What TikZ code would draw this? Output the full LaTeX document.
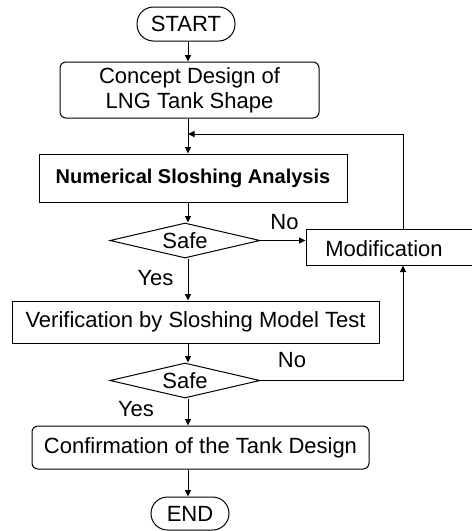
\documentclass[tikz,border=0pt]{standalone}
\usepackage{fontspec}
\setmainfont{Liberation Sans}
\usetikzlibrary{shapes.geometric,arrows.meta}

\tikzset{
  base/.style={draw, line width=1pt, inner sep=0pt, align=center,
               font=\fontsize{22}{25}\selectfont},
  terminal/.style={base, rounded corners=16.5pt},
  roundbox/.style={base, rounded corners=6pt},
  box/.style={base},
  decision/.style={base, diamond, shape aspect=4.3},
  lbl/.style={inner sep=0pt, font=\fontsize{22}{25}\selectfont},
  link/.style={line width=1pt},
  arr/.style={link, -{Triangle[width=6pt,length=6.5pt]}}
}

\begin{document}
\begin{tikzpicture}[x=1pt,y=-1pt]
  \useasboundingbox (0,0) rectangle (472,531);

  % main flow
  \node (start) [terminal, minimum width=98pt, minimum height=34pt] at (186,24) {START};
  \node (concept) [roundbox, minimum width=259pt, minimum height=56pt] at (189.5,90)
        {Concept Design of\\LNG Tank Shape};
  \node (num) [box, minimum width=308pt, minimum height=48pt,
               font=\fontsize{20}{24}\selectfont\bfseries] at (193,178)
        {Numerical Sloshing Analysis};
  \node (safeA) [decision, minimum width=150pt, minimum height=35pt] at (185,240.5) {Safe};
  \node (mod) [box, minimum width=168pt, minimum height=36pt,
               label={[lbl, xshift=-6pt, yshift=-2pt]center:Modification}] at (390,247) {};
  \node (verif) [box, minimum width=367pt, minimum height=42pt] at (195.5,322)
        {Verification by Sloshing Model Test};
  \node (safeB) [decision, minimum width=150pt, minimum height=35pt] at (185,380.5) {Safe};
  \node (conf) [roundbox, minimum width=337pt, minimum height=43pt] at (200.5,447.5)
        {Confirmation of the Tank Design};
  \node (end) [terminal, minimum width=78pt, minimum height=33pt] at (190,513.5) {END};

  % spine and loop guides
  \coordinate (sp) at (188,0);
  \coordinate (fx) at (403,0);
  \coordinate (fb) at (188,134);

  % connectors along the spine
  \draw[arr] (start.south -| sp) -- (concept.north -| sp);
  \draw[arr] (concept.south -| sp) -- (num.north -| sp);
  \draw[arr] (num.south -| sp) -- (safeA.north -| sp);
  \draw[arr] (safeA.south -| sp) -- (verif.north -| sp);
  \draw[arr] (verif.south -| sp) -- (safeB.north -| sp);
  \draw[arr] (safeB.south -| sp) -- (conf.north -| sp);
  \draw[arr] (conf.south -| sp) -- (end.north -| sp);

  % rejection branches and feedback loop
  \draw[arr] (safeA.east) -- (safeA.east -| mod.west);
  \draw[arr] (safeB.east) -| (mod.south -| fx);
  \draw[arr] (mod.north -| fx) |- (fb);

  % branch labels
  \node (noA)  [lbl] at (284.5,222.5) {No};
  \node (yesA) [lbl] at (155.5,278) {Yes};
  \node (noB)  [lbl] at (292,360) {No};
  \node (yesB) [lbl] at (136,409) {Yes};
\end{tikzpicture}
\end{document}
